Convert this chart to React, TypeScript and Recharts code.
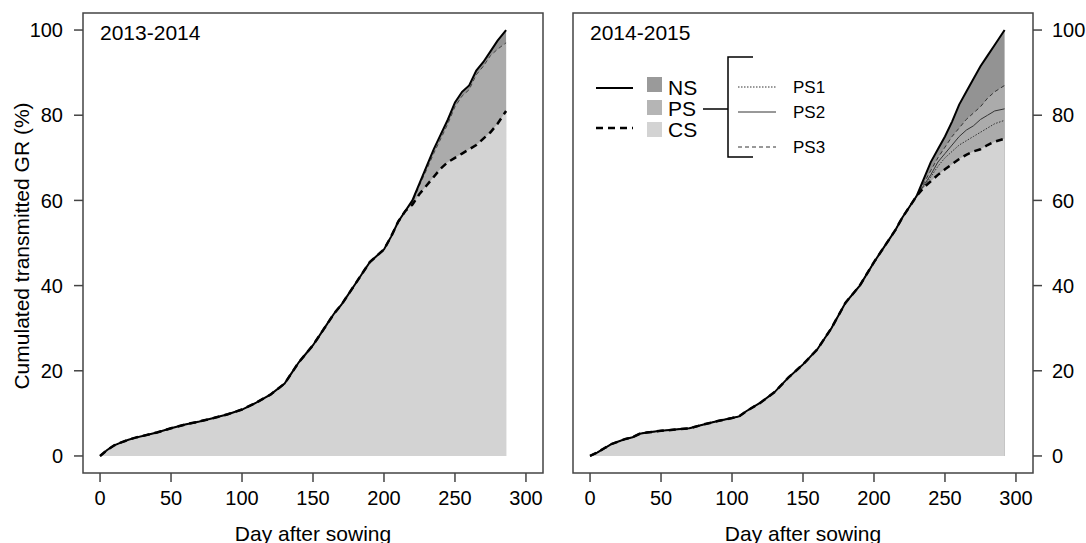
import { Area, ComposedChart, Line, ReferenceArea, XAxis, YAxis } from "recharts";

// 2013-2014 season
const leftDays = [
  0, 5, 10, 15, 20, 25, 30, 40, 50, 60, 70, 80, 90, 100, 110, 120, 130, 135, 140, 145, 150, 155, 160,
  165, 170, 175, 180, 185, 190, 195, 200, 205, 210, 215, 220, 225, 230, 235, 240, 245, 250, 255, 260,
  265, 270, 275, 280, 286,
];
const leftNS = [
  0, 1.4, 2.5, 3.2, 3.8, 4.3, 4.7, 5.5, 6.5, 7.4, 8.1, 8.9, 9.8, 10.9, 12.5, 14.4, 17, 19.5, 22, 24, 26,
  28.5, 31, 33.5, 35.5, 38, 40.5, 43, 45.5, 47, 48.5, 51.5, 55, 57.5, 60, 64, 68, 72, 75.5, 79, 83, 85.5,
  87, 90.5, 92.5, 95, 97.5, 100,
];
// PS and CS follow NS until day 215, then split off
const leftSplitDay = 215;
const leftPSTail = [57.5, 59.5, 63.5, 67.2, 71, 74.5, 78, 82, 84.5, 86, 89.5, 91.5, 94, 95.5, 97];
const leftCSTail = [57.5, 59, 61.5, 63.5, 65.5, 67.5, 69, 70, 71, 72, 73, 74.5, 76, 78, 81];

// 2014-2015 season
const rightDays = [
  0, 5, 10, 15, 20, 25, 30, 35, 40, 50, 60, 70, 80, 90, 100, 105, 110, 120, 130, 140, 150, 160, 170, 180,
  190, 200, 210, 215, 220, 225, 230, 235, 240, 245, 250, 255, 260, 265, 270, 275, 280, 285, 292,
];
const rightNS = [
  0, 0.8, 1.8, 2.8, 3.4, 4.0, 4.4, 5.2, 5.5, 5.9, 6.2, 6.5, 7.4, 8.2, 8.9, 9.3, 10.5, 12.5, 15, 18.5,
  21.5, 25, 30, 36, 40, 45.5, 50.5, 53, 56, 58.5, 61, 65, 69, 72, 75, 78.5, 82.5, 85.5, 88.5, 91.5, 94,
  96.5, 100,
];
const rightSplitDay = 230;
const rightPS1Tail = [61, 63.2, 65.5, 68, 70, 71.5, 73, 74, 75, 76, 77, 78, 78.8];
const rightPS2Tail = [61, 63.5, 66, 69, 71, 73, 75, 76.5, 77.5, 79, 80, 81, 81.5];
const rightPS3Tail = [61, 64, 67, 70, 72.5, 75, 77, 79, 80.5, 82, 84, 85.5, 87];
const rightCSTail = [61, 63, 64.5, 66, 67.3, 68.5, 69.7, 70.7, 71.5, 72, 73, 73.8, 74.5];

const xTicks = [0, 50, 100, 150, 200, 250, 300];
const yTicks = [0, 20, 40, 60, 80, 100];

const FONT = '"Liberation Sans", Arial, sans-serif';
const AXIS_COLOR = "#444";
const NS_FILL = "#939393";
const PS_FILL = "#ababab";
const CS_FILL = "#d3d3d3";

function withTail(days: number[], base: number[], split: number, tail: number[]) {
  const start = days.indexOf(split);
  return base.map((v, i) => (i < start ? v : tail[i - start]));
}

const leftPS = withTail(leftDays, leftNS, leftSplitDay, leftPSTail);
const leftCS = withTail(leftDays, leftNS, leftSplitDay, leftCSTail);
const leftRows = leftDays.map((day, i) => ({ day, ns: leftNS[i], ps: leftPS[i], cs: leftCS[i] }));

const rightPS1 = withTail(rightDays, rightNS, rightSplitDay, rightPS1Tail);
const rightPS2 = withTail(rightDays, rightNS, rightSplitDay, rightPS2Tail);
const rightPS3 = withTail(rightDays, rightNS, rightSplitDay, rightPS3Tail);
const rightCS = withTail(rightDays, rightNS, rightSplitDay, rightCSTail);
const rightRows = rightDays.map((day, i) => ({
  day,
  ns: rightNS[i],
  ps1: rightPS1[i],
  ps2: rightPS2[i],
  ps3: rightPS3[i],
  cs: rightCS[i],
}));

const tickStyle = { fontSize: 20, fill: "#000", fontFamily: FONT };

const xAxisProps = {
  dataKey: "day",
  type: "number" as const,
  domain: [-12, 312],
  ticks: xTicks,
  allowDataOverflow: true,
  axisLine: false,
  tickLine: { stroke: AXIS_COLOR, strokeWidth: 1.5 },
  tickSize: 9,
  tickMargin: 9,
  height: 70,
  tick: tickStyle,
  interval: 0 as const,
};

const yAxisProps = {
  type: "number" as const,
  domain: [-4, 104],
  ticks: yTicks,
  allowDataOverflow: true,
  axisLine: false,
  tickLine: { stroke: AXIS_COLOR, strokeWidth: 1.5 },
  tickSize: 9,
  tick: tickStyle,
  interval: 0 as const,
};

function Box() {
  return (
    <ReferenceArea
      x1={-12}
      x2={312}
      y1={-4}
      y2={104}
      fill="none"
      stroke={AXIS_COLOR}
      strokeWidth={1.5}
      ifOverflow="visible"
    />
  );
}

export default function App() {
  return (
    <div
      style={{
        position: "absolute",
        left: 0,
        top: 0,
        width: 1086,
        height: 543,
        background: "#fff",
        fontFamily: FONT,
        overflow: "hidden",
      }}
    >
      <div style={{ position: "absolute", left: 0, top: 0 }}>
        <ComposedChart width={560} height={543} data={leftRows} margin={{ top: 13, right: 17, bottom: 0, left: 0 }}>
          <XAxis {...xAxisProps} />
          <YAxis {...yAxisProps} width={83} tickMargin={11} />
          <Area dataKey="ns" baseValue={0} stroke="none" fill={NS_FILL} fillOpacity={1} isAnimationActive={false} />
          <Area dataKey="ps" baseValue={0} stroke="none" fill={PS_FILL} fillOpacity={1} isAnimationActive={false} />
          <Area dataKey="cs" baseValue={0} stroke="none" fill={CS_FILL} fillOpacity={1} isAnimationActive={false} />
          <Line dataKey="ps" stroke="#444" strokeWidth={1} strokeDasharray="4 3" dot={false} isAnimationActive={false} />
          <Line dataKey="ns" stroke="#000" strokeWidth={2} dot={false} isAnimationActive={false} />
          <Line dataKey="cs" stroke="#000" strokeWidth={2.5} strokeDasharray="7 5" dot={false} isAnimationActive={false} />
          {Box()}
        </ComposedChart>
      </div>
      <div style={{ position: "absolute", left: 560, top: 0 }}>
        <ComposedChart width={526} height={543} data={rightRows} margin={{ top: 13, right: 0, bottom: 0, left: 13 }}>
          <XAxis {...xAxisProps} />
          <YAxis {...yAxisProps} orientation="right" width={53} tickMargin={10} />
          <Area dataKey="ns" baseValue={0} stroke="none" fill={NS_FILL} fillOpacity={1} isAnimationActive={false} />
          <Area dataKey="ps3" baseValue={0} stroke="none" fill={PS_FILL} fillOpacity={1} isAnimationActive={false} />
          <Area dataKey="cs" baseValue={0} stroke="none" fill={CS_FILL} fillOpacity={1} isAnimationActive={false} />
          <Line dataKey="ps1" stroke="#333" strokeWidth={1} strokeDasharray="1.5 1.5" dot={false} isAnimationActive={false} />
          <Line dataKey="ps2" stroke="#333" strokeWidth={1} dot={false} isAnimationActive={false} />
          <Line dataKey="ps3" stroke="#333" strokeWidth={1} strokeDasharray="4 3" dot={false} isAnimationActive={false} />
          <Line dataKey="ns" stroke="#000" strokeWidth={2} dot={false} isAnimationActive={false} />
          <Line dataKey="cs" stroke="#000" strokeWidth={2.5} strokeDasharray="7 5" dot={false} isAnimationActive={false} />
          {Box()}
        </ComposedChart>
      </div>

      {/* titles, axis labels and legend */}
      <svg
        width={1086}
        height={543}
        style={{ position: "absolute", left: 0, top: 0, pointerEvents: "none" }}
        fontFamily={FONT}
      >
        <text x={100} y={40} fontSize={21}>2013-2014</text>
        <text x={590} y={40} fontSize={21}>2014-2015</text>
        <text x={313} y={541} fontSize={21} textAnchor="middle">Day after sowing</text>
        <text x={803} y={541} fontSize={21} textAnchor="middle">Day after sowing</text>
        <text
          x={0}
          y={0}
          fontSize={21}
          textAnchor="middle"
          transform="translate(29 246) rotate(-90)"
        >
          Cumulated transmitted GR (%)
        </text>

        <line x1={596} x2={633} y1={88} y2={88} stroke="#000" strokeWidth={2} />
        <line x1={596} x2={633} y1={128} y2={128} stroke="#000" strokeWidth={2.5} strokeDasharray="7 5" />
        <rect x={647} y={77} width={15} height={15} fill="#9a9a9a" />
        <rect x={647} y={100} width={15} height={15} fill="#b5b5b5" />
        <rect x={647} y={122} width={15} height={15} fill={CS_FILL} />
        <text x={668} y={95} fontSize={21}>NS</text>
        <text x={668} y={116} fontSize={21}>PS</text>
        <text x={668} y={137} fontSize={21}>CS</text>

        <line x1={703} x2={728} y1={109} y2={109} stroke="#000" strokeWidth={1.5} />
        <polyline points="753,57 728,57 728,157 753,157" fill="none" stroke="#000" strokeWidth={1.5} />
        <line x1={738} x2={776} y1={87} y2={87} stroke="#333" strokeWidth={1} strokeDasharray="1.5 1.5" />
        <line x1={738} x2={776} y1={112} y2={112} stroke="#333" strokeWidth={1} />
        <line x1={738} x2={776} y1={147} y2={147} stroke="#333" strokeWidth={1} strokeDasharray="4 3" />
        <text x={793} y={93} fontSize={17}>PS1</text>
        <text x={793} y={118} fontSize={17}>PS2</text>
        <text x={793} y={153} fontSize={17}>PS3</text>
      </svg>
    </div>
  );
}
